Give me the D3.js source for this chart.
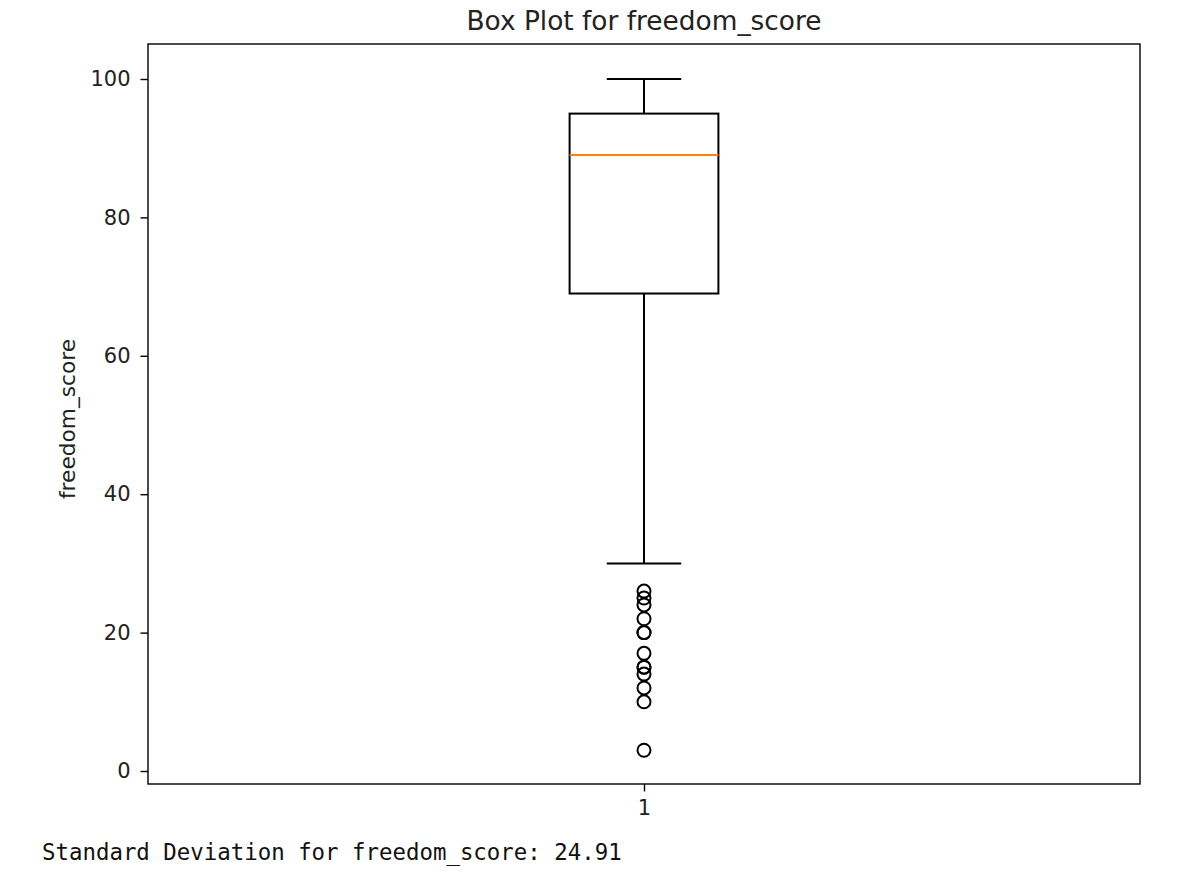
<!DOCTYPE html>
<html><head><meta charset="utf-8">
<script src="https://cdn.jsdelivr.net/npm/d3@7"></script>
<style>body{margin:0;background:#fff;}svg{display:block;}</style>
</head><body>
<svg id="c" width="1196" height="878"></svg>
<script>
const title = "Box Plot for freedom_score";
const yLabel = "freedom_score";
const categories = ["1"];
const q1 = [69];
const median = [89];
const q3 = [95];
const whiskerLow = [30];
const whiskerHigh = [100];
const outliers = [[26, 25, 24, 22, 20, 20, 17, 15, 15, 14, 12, 10, 3]];
const yTicks = [0, 20, 40, 60, 80, 100];
const stdText = "Standard Deviation for freedom_score: 24.91";

const svg = d3.select("#c");
const L = 148, R = 1140, T = 44, B = 784;
const x = d3.scaleLinear().domain([0.5, 1.5]).range([L, R]);
// calibrated so that 0 -> 771 and 100 -> 79
const k = (771 - 79) / 100;
const y = d3.scaleLinear().domain([-(B - 771) / k, (771 - T) / k]).range([B, T]);

const font = "DejaVu Sans, sans-serif";
const g = svg.append("g");

const yAxis = d3.axisLeft(y).tickValues(yTicks).tickSize(7.5).tickPadding(10).tickFormat(d3.format("d"));
const xAxis = d3.axisBottom(x).tickValues([1]).tickSize(7.5).tickPadding(9).tickFormat((d, i) => categories[i]);
const ya = g.append("g").attr("transform", `translate(${L},0)`).call(yAxis);
const xa = g.append("g").attr("transform", `translate(0,${B})`).call(xAxis);
[ya, xa].forEach(a => {
  a.select(".domain").remove();
  a.selectAll("line").attr("stroke", "#000").attr("stroke-width", 1.4);
  a.selectAll("text").attr("font-family", font).attr("font-size", 21).attr("fill", "#222");
});

categories.forEach((c, i) => {
  const cx = x(i + 1);
  const bw = x(1.075) - x(0.925);
  const cw = bw / 2;
  const s = g.append("g").attr("fill", "none").attr("stroke", "#000").attr("stroke-width", 2);
  s.append("line").attr("x1", cx).attr("x2", cx).attr("y1", y(q1[i])).attr("y2", y(whiskerLow[i]));
  s.append("line").attr("x1", cx).attr("x2", cx).attr("y1", y(q3[i])).attr("y2", y(whiskerHigh[i]));
  s.append("line").attr("x1", cx - cw / 2).attr("x2", cx + cw / 2).attr("y1", y(whiskerLow[i])).attr("y2", y(whiskerLow[i]));
  s.append("line").attr("x1", cx - cw / 2).attr("x2", cx + cw / 2).attr("y1", y(whiskerHigh[i])).attr("y2", y(whiskerHigh[i]));
  s.append("rect").attr("x", cx - bw / 2).attr("y", y(q3[i])).attr("width", bw).attr("height", y(q1[i]) - y(q3[i]));
  g.append("line").attr("x1", cx - bw / 2).attr("x2", cx + bw / 2).attr("y1", y(median[i])).attr("y2", y(median[i]))
    .attr("stroke", "#ff7f0e").attr("stroke-width", 2);
  g.append("g").selectAll("circle").data(outliers[i]).join("circle")
    .attr("cx", cx).attr("cy", d => y(d)).attr("r", 6.5)
    .attr("fill", "none").attr("stroke", "#000").attr("stroke-width", 2);
});

g.append("rect").attr("x", L).attr("y", T).attr("width", R - L).attr("height", B - T)
  .attr("fill", "none").attr("stroke", "#000").attr("stroke-width", 1.4);

svg.append("text").attr("x", (L + R) / 2).attr("y", 30).attr("text-anchor", "middle")
  .attr("font-family", font).attr("font-size", 26.4).attr("fill", "#222").text(title);
svg.append("text").attr("transform", `translate(75,${(T + B) / 2 + 5}) rotate(-90)`).attr("text-anchor", "middle")
  .attr("font-family", font).attr("font-size", 21.7).attr("fill", "#222").text(yLabel);
svg.append("text").attr("x", 42).attr("y", 860)
  .attr("font-family", "DejaVu Sans Mono, monospace").attr("font-size", 22.4).attr("fill", "#111").text(stdText);
</script>
</body></html>
